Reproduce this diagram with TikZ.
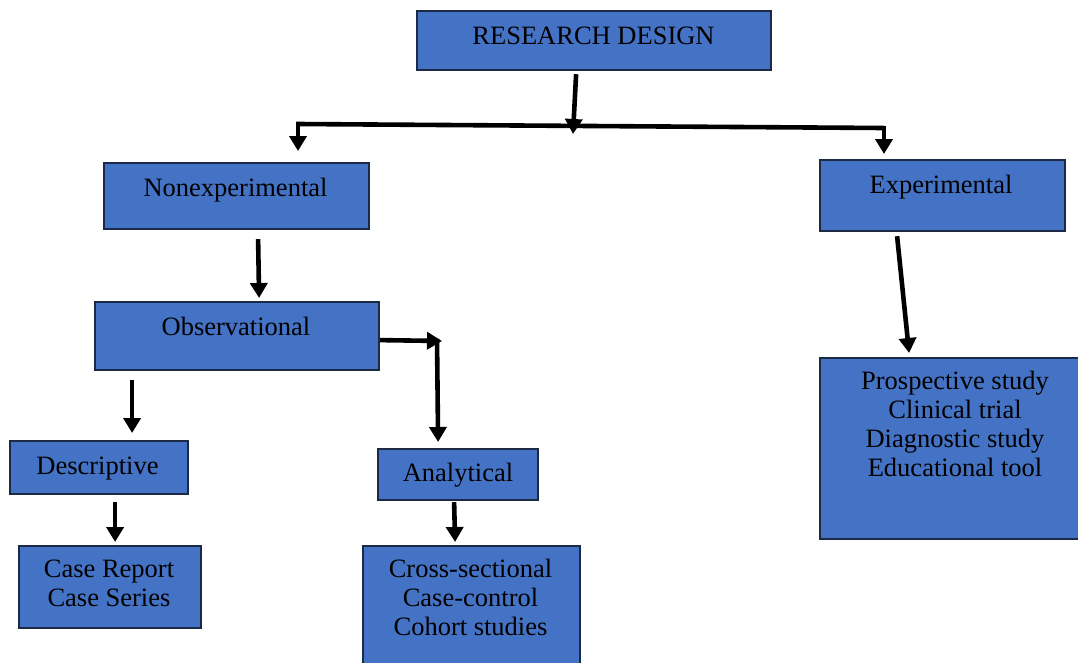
\documentclass[tikz,border=0pt]{standalone}
\usepackage{fontspec}
\setmainfont{Liberation Serif}
\usetikzlibrary{arrows.meta}
\definecolor{boxfill}{HTML}{4472C4}
\definecolor{boxline}{HTML}{1C2A46}
\tikzset{
  box/.style={draw=boxline, line width=2.2pt, fill=boxfill, rectangle, inner sep=0pt, anchor=north west},
  txt/.style={anchor=base, inner sep=0pt, align=center, font=\fontsize{26.5}{28.7}\selectfont, text=black},
  arr/.style={line width=4.6pt, -{Triangle[width=17pt,length=15pt]}},
  plain/.style={line width=4.6pt}
}
\begin{document}
\begin{tikzpicture}[x=1pt,y=-1pt]
\useasboundingbox (0,0) rectangle (1078,662);
\begin{scope}
\clip (0,0) rectangle (1078,662);
% boxes
\node[box, minimum width=354pt, minimum height=59pt] (rd) at (416,10) {};
\node[box, minimum width=265pt, minimum height=66pt] (nonexp) at (103,162) {};
\node[box, minimum width=245pt, minimum height=71pt] (exp) at (819,159) {};
\node[box, minimum width=284pt, minimum height=68pt] (obs) at (94,301) {};
\node[box, minimum width=178pt, minimum height=53pt] (desc) at (9,440) {};
\node[box, minimum width=160pt, minimum height=51pt] (ana) at (377,448) {};
\node[box, minimum width=182pt, minimum height=82pt] (cases) at (18,545) {};
\node[box, minimum width=217pt, minimum height=130pt] (cross) at (362,545) {};
\node[box, minimum width=272pt, minimum height=181pt] (prosp) at (819,357) {};
\end{scope}
% texts (multi-line nodes: base = baseline of last line)
\node[txt] (rdt) at (593.5,44) {RESEARCH DESIGN};
\node[txt] (nonexpt) at (235.5,196) {Nonexperimental};
\node[txt] (expt) at (941,193) {Experimental};
\node[txt] (obst) at (236,335) {Observational};
\node[txt] (desct) at (97.5,474) {Descriptive};
\node[txt] (anat) at (458,481) {Analytical};
\node[txt] (casest) at (109,606) {Case Report\\Case Series};
\node[txt] (crosst) at (470.5,635) {Cross-sectional\\Case-control\\Cohort studies};
\node[txt] (prospt) at (955,476) {Prospective study\\Clinical trial\\Diagnostic study\\Educational tool};
% connectors
\coordinate (jmid) at (573,134);
\coordinate (jl) at (298,124);
\coordinate (jr) at (884,128);
\coordinate (elb) at (442,341);
\draw[arr] ([xshift=-18pt,yshift=-3pt]rd.south) -- (jmid);
\draw[plain] ([xshift=-2pt]jl) -- (jl) -- (jr);
\draw[arr] ([yshift=2pt]jl) -- ([yshift=11pt]jl |- nonexp.north);
\draw[arr] ([yshift=2pt]jr) -- ([yshift=5pt]jr |- exp.north);
\draw[arr] ([xshift=21.5pt,yshift=-9pt]nonexp.south) -- ([xshift=22pt,yshift=3pt]obs.north);
\draw[arr] ([xshift=-45.5pt,yshift=-4pt]exp.south) -- ([xshift=-47pt,yshift=4pt]prosp.north);
\draw[arr] ([yshift=-4pt]obs.east) -- (elb);
\draw[arr] ([xshift=-5pt,yshift=2pt]elb) -- ([xshift=-20pt,yshift=6pt]ana.north);
\draw[arr] ([xshift=-105pt,yshift=-9pt]obs.south) -- ([xshift=33pt,yshift=7pt]desc.north);
\draw[arr] ([xshift=16pt,yshift=-7pt]desc.south) -- ([xshift=5pt,yshift=3pt]cases.north);
\draw[arr] ([xshift=-4pt,yshift=-1pt]ana.south) -- ([xshift=-16.5pt,yshift=3pt]cross.north);
\end{tikzpicture}
\end{document}
